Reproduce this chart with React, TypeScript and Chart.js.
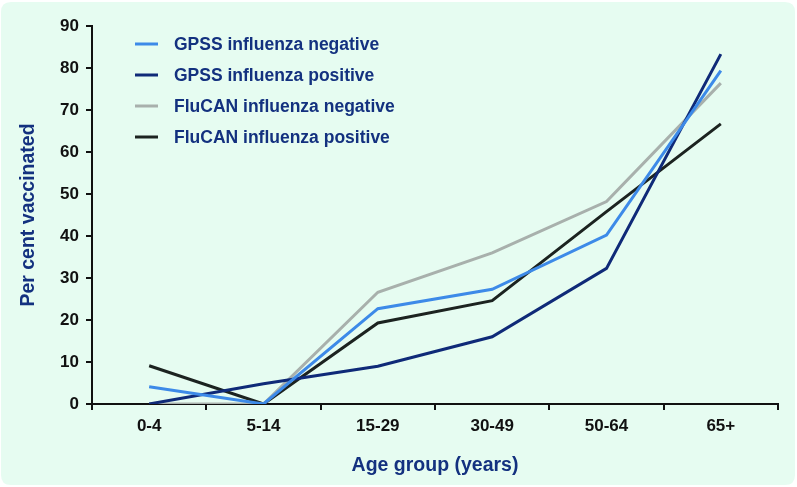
import React, { useEffect, useRef } from "react";
import { Chart, registerables } from "chart.js";

Chart.register(...registerables);

const categories = ["0-4", "5-14", "15-29", "30-49", "50-64", "65+"];
const gpssNegative = [4.1, 0, 22.7, 27.3, 40.2, 79.4];
const gpssPositive = [0, 4.8, 9.0, 16.0, 32.3, 83.3];
const flucanNegative = [0, 0, 26.6, 36.0, 48.2, 76.4];
const flucanPositive = [9.1, 0, 19.3, 24.6, 45.8, 66.7];
const seriesNames = [
  "GPSS influenza negative",
  "GPSS influenza positive",
  "FluCAN influenza negative",
  "FluCAN influenza positive",
];
const seriesColors = ["#3d8ae8", "#0f2a78", "#a8b0ac", "#1c2320"];
const yTicks = [0, 10, 20, 30, 40, 50, 60, 70, 80, 90];

const NAVY = "#13317f";
const FONT = "'Liberation Sans', Arial, sans-serif";

const backgroundPlugin = {
  id: "bgPanel",
  beforeDraw(chart: any) {
    const { ctx, width, height } = chart;
    ctx.save();
    ctx.fillStyle = "#ffffff";
    ctx.fillRect(0, 0, width, height);
    const x = 1, y = 2, w = width - 3, h = height - 4, r = 10;
    ctx.beginPath();
    ctx.moveTo(x + r, y);
    ctx.lineTo(x + w - r, y);
    ctx.quadraticCurveTo(x + w, y, x + w, y + r);
    ctx.lineTo(x + w, y + h - r);
    ctx.quadraticCurveTo(x + w, y + h, x + w - r, y + h);
    ctx.lineTo(x + r, y + h);
    ctx.quadraticCurveTo(x, y + h, x, y + h - r);
    ctx.lineTo(x, y + r);
    ctx.quadraticCurveTo(x, y, x + r, y);
    ctx.closePath();
    ctx.fillStyle = "#e6fcf1";
    ctx.fill();
    ctx.restore();
  },
};

const legendPlugin = {
  id: "innerLegend",
  afterDraw(chart: any) {
    const { ctx, chartArea } = chart;
    ctx.save();
    ctx.font = `bold 17.5px ${FONT}`;
    ctx.textBaseline = "middle";
    ctx.textAlign = "left";
    chart.data.datasets.forEach((ds: any, i: number) => {
      const cy = chartArea.top + 18 + i * 31;
      const lx = chartArea.left + 43;
      ctx.strokeStyle = ds.borderColor;
      ctx.lineWidth = 3;
      ctx.beginPath();
      ctx.moveTo(lx, cy);
      ctx.lineTo(lx + 23, cy);
      ctx.stroke();
      ctx.fillStyle = NAVY;
      ctx.fillText(ds.label, lx + 39, cy + 1);
    });
    ctx.restore();
  },
};

export default function App() {
  const ref = useRef<HTMLCanvasElement>(null);
  useEffect(() => {
    document.body.style.margin = "0";
    const values = [gpssNegative, gpssPositive, flucanNegative, flucanPositive];
    const chart = new Chart(ref.current!, {
      type: "line",
      data: {
        labels: categories,
        datasets: values.map((v, i) => ({
          label: seriesNames[i],
          data: v,
          borderColor: seriesColors[i],
          backgroundColor: seriesColors[i],
          borderWidth: 3,
          pointRadius: 0,
          tension: 0,
          fill: false,
        })),
      },
      options: {
        responsive: false,
        animation: false,
        layout: { padding: { top: 26, right: 19, left: 0, bottom: 0 } },
        plugins: {
          legend: { display: false },
          tooltip: { enabled: false },
        },
        scales: {
          x: {
            type: "category",
            offset: true,
            grid: {
              display: true,
              offset: true,
              drawOnChartArea: false,
              drawTicks: true,
              tickLength: 6,
              color: "#111",
              lineWidth: 2,
            },
            border: { display: true, color: "#111", width: 2 },
            ticks: {
              color: "#111",
              padding: 6,
              font: { family: FONT, size: 17, weight: "bold" },
              maxRotation: 0,
            },
            title: {
              display: true,
              text: "Age group (years)",
              color: NAVY,
              font: { family: FONT, size: 19.5, weight: "bold" },
              padding: { top: 14, bottom: 10 },
            },
            afterFit(scale: any) {
              scale.height = 83;
            },
          },
          y: {
            min: 0,
            max: 90,
            afterBuildTicks(scale: any) {
              scale.ticks = yTicks.map((v) => ({ value: v }));
            },
            grid: {
              display: true,
              drawOnChartArea: false,
              drawTicks: true,
              tickLength: 6,
              color: "#111",
              lineWidth: 2,
            },
            border: { display: true, color: "#111", width: 2 },
            ticks: {
              color: "#111",
              padding: 7,
              font: { family: FONT, size: 17, weight: "bold" },
            },
            title: {
              display: true,
              text: "Per cent vaccinated",
              color: NAVY,
              font: { family: FONT, size: 19.5, weight: "bold" },
              padding: { top: 17, bottom: 0 },
            },
            afterFit(scale: any) {
              scale.width = 92;
            },
          },
        },
      },
      plugins: [backgroundPlugin, legendPlugin],
    } as any);
    return () => chart.destroy();
  }, []);
  return <canvas ref={ref} width={797} height={487} style={{ display: "block" }} />;
}
